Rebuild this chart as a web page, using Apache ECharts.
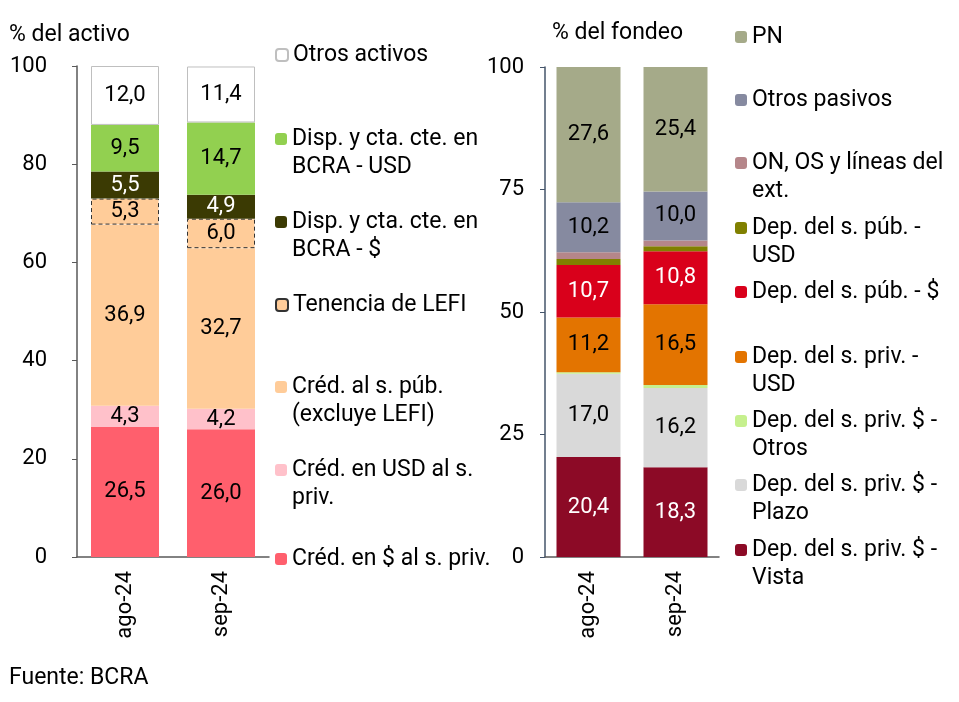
<!DOCTYPE html>
<html><head><meta charset="utf-8">
<script src="https://cdn.jsdelivr.net/npm/echarts@6/dist/echarts.min.js"></script>
<style>html,body{margin:0;padding:0;background:#fff}#c{width:959px;height:702px}</style>
</head><body><div id="c"></div>
<script>
// ---- data ----
const categories = ['ago-24', 'sep-24'];
const leftTicks = [0, 20, 40, 60, 80, 100];
const rightTicks = [0, 25, 50, 75, 100];
// Activo (% del activo)
const credPesosPriv = [26.5, 26.0];
const credUsdPriv = [4.3, 4.2];
const credSpub = [36.9, 32.7];
const lefi = [5.3, 6.0];
const dispPesos = [5.5, 4.9];
const dispUsd = [9.5, 14.7];
const otrosActivos = [12.0, 11.4];
// Fondeo (% del fondeo)
const depVista = [20.4, 18.3];
const depPlazo = [17.0, 16.2];
const depOtros = [0.3, 0.6];
const depPrivUsd = [11.2, 16.5];
const depPubPesos = [10.7, 10.8];
const depPubUsd = [1.2, 1.0];
const onOs = [1.4, 1.2];
const otrosPasivos = [10.2, 10.0];
const pn = [27.6, 25.4];

const FONT = 'Roboto';
const fmt = p => p.value.toFixed(1).replace('.', ',');

function bar(name, data, color, axis, opts) {
  opts = opts || {};
  return {
    name, type: 'bar', stack: 's' + axis, data,
    xAxisIndex: axis, yAxisIndex: axis,
    barWidth: axis === 0 ? 68 : 64,
    itemStyle: Object.assign({ color }, opts.itemStyle || {}),
    label: opts.noLabel ? { show: false } : {
      show: true, position: 'inside', formatter: fmt,
      fontFamily: FONT, fontSize: 22, color: opts.white ? '#fff' : '#000'
    },
    emphasis: { disabled: true },
    animation: false
  };
}

const series = [
  bar('Créd. en $ al s. priv.', credPesosPriv, '#FF5F6D', 0),
  bar('Créd. en USD al s. priv.', credUsdPriv, '#FFC1CA', 0),
  bar('Créd. al s. púb. (excluye LEFI)', credSpub, '#FFCC99', 0),
  bar('Tenencia de LEFI', lefi, '#FFCC99', 0, { itemStyle: { borderColor: '#333', borderWidth: 1, borderType: [4, 3] } }),
  bar('Disp. y cta. cte. en BCRA - $', dispPesos, '#3B3A03', 0, { white: true }),
  bar('Disp. y cta. cte. en BCRA - USD', dispUsd, '#92D050', 0),
  bar('Otros activos', otrosActivos, '#FFFFFF', 0, { itemStyle: { borderColor: '#BFBFBF', borderWidth: 1 } }),

  bar('Dep. del s. priv. $ - Vista', depVista, '#8C0A26', 1, { white: true }),
  bar('Dep. del s. priv. $ - Plazo', depPlazo, '#D9D9D9', 1),
  bar('Dep. del s. priv. $ - Otros', depOtros, '#C6F08E', 1, { noLabel: true }),
  bar('Dep. del s. priv. - USD', depPrivUsd, '#E37400', 1),
  bar('Dep. del s. púb. - $', depPubPesos, '#D9001B', 1, { white: true }),
  bar('Dep. del s. púb. - USD', depPubUsd, '#808000', 1, { noLabel: true }),
  bar('ON, OS y líneas del ext.', onOs, '#B5868A', 1, { noLabel: true }),
  bar('Otros pasivos', otrosPasivos, '#868AA0', 1),
  bar('PN', pn, '#A5AA89', 1)
];

const legendDefs = [
  // [name, display text, left, center y]
  ['Otros activos', 'Otros activos', 275, 53],
  ['Disp. y cta. cte. en BCRA - USD', 'Disp. y cta. cte. en\nBCRA - USD', 275, 137],
  ['Disp. y cta. cte. en BCRA - $', 'Disp. y cta. cte. en\nBCRA - $', 275, 220],
  ['Tenencia de LEFI', 'Tenencia de LEFI', 275, 303],
  ['Créd. al s. púb. (excluye LEFI)', 'Créd. al s. púb.\n(excluye LEFI)', 275, 385],
  ['Créd. en USD al s. priv.', 'Créd. en USD al s.\npriv.', 275, 468],
  ['Créd. en $ al s. priv.', 'Créd. en $ al s. priv.', 275, 557],
  ['PN', 'PN', 735, 35],
  ['Otros pasivos', 'Otros pasivos', 735, 98],
  ['ON, OS y líneas del ext.', 'ON, OS y líneas del\next.', 735, 161],
  ['Dep. del s. púb. - USD', 'Dep. del s. púb. -\nUSD', 735, 226],
  ['Dep. del s. púb. - $', 'Dep. del s. púb. - $', 735, 290],
  ['Dep. del s. priv. - USD', 'Dep. del s. priv. -\nUSD', 735, 355],
  ['Dep. del s. priv. $ - Otros', 'Dep. del s. priv. $ -\nOtros', 735, 419],
  ['Dep. del s. priv. $ - Plazo', 'Dep. del s. priv. $ -\nPlazo', 735, 483],
  ['Dep. del s. priv. $ - Vista', 'Dep. del s. priv. $ -\nVista', 735, 548]
];
const LH = 28;
const legends = legendDefs.map(([name, text, left, cy]) => {
  const two = text.indexOf('\n') >= 0;
  const shown = two ? '\u00a0\n' + text : text;
  return {
    show: true, left, top: (two ? cy - 1.5 * LH : cy - LH / 2) + 2,
    orient: 'vertical', padding: 0,
    itemWidth: 12, itemHeight: 12, selectedMode: false,
    data: [name],
    formatter: () => shown,
    textStyle: { fontFamily: FONT, fontSize: 23, color: '#000', lineHeight: LH }
  };
});

function yAxis(idx, interval) {
  return {
    type: 'value', gridIndex: idx, min: 0, max: 100, interval,
    axisLine: { show: true, lineStyle: { color: idx === 0 ? '#595959' : '#44546A', width: 1.5 } },
    axisTick: { show: true, length: 5, lineStyle: { color: idx === 0 ? '#595959' : '#44546A' } },
    splitLine: { show: false },
    axisLabel: { fontFamily: FONT, fontSize: 22, color: '#000', margin: idx === 0 ? 30 : 21 }
  };
}
function xAxis(idx) {
  return {
    type: 'category', gridIndex: idx, data: categories,
    axisLine: { show: true, lineStyle: { color: '#595959', width: 1.5 } },
    axisTick: { show: false },
    axisLabel: { fontFamily: FONT, fontSize: 22, color: '#000', rotate: 90, margin: 14 }
  };
}

const chart = echarts.init(document.getElementById('c'), null, { renderer: 'canvas' });
chart.setOption({
  animation: false,
  backgroundColor: '#fff',
  title: [
    { text: '% del activo', left: 4, top: 19, textStyle: { fontFamily: FONT, fontSize: 23, fontWeight: 'normal', color: '#000' } },
    { text: '% del fondeo', left: 547, top: 17, textStyle: { fontFamily: FONT, fontSize: 23, fontWeight: 'normal', color: '#000' } },
    { text: 'Fuente: BCRA', left: 4, top: 662, textStyle: { fontFamily: FONT, fontSize: 23, fontWeight: 'normal', color: '#000' } }
  ],
  grid: [
    { left: 77, top: 66, width: 192, height: 491 },
    { left: 545, top: 67, width: 174, height: 490 }
  ],
  xAxis: [xAxis(0), xAxis(1)],
  yAxis: [yAxis(0, 20), yAxis(1, 25)],
  legend: legends,
  series
});
</script></body></html>
